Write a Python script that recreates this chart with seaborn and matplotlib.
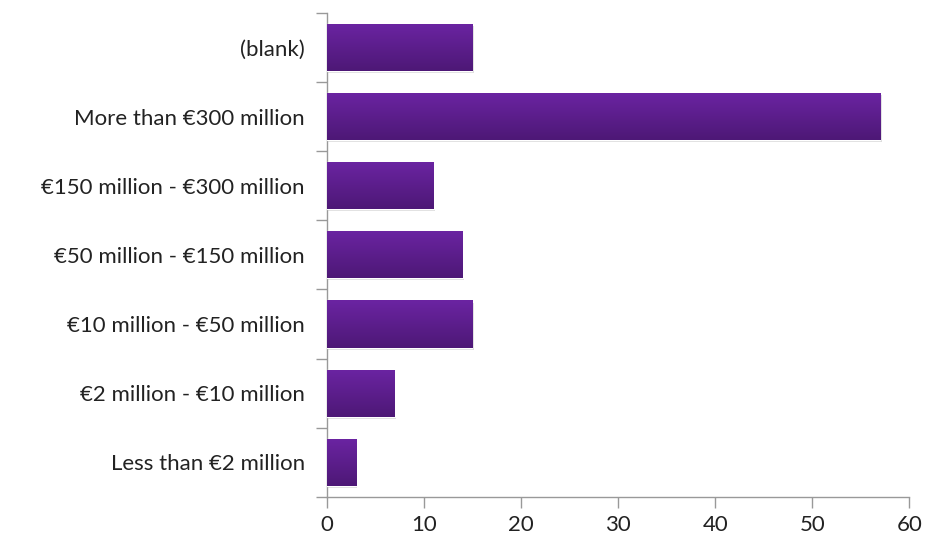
import matplotlib.pyplot as plt
import seaborn as sns
import pandas as pd
import numpy as np

categories = ["(blank)", "More than €300 million", "€150 million - €300 million",
              "€50 million - €150 million", "€10 million - €50 million",
              "€2 million - €10 million", "Less than €2 million"]
counts = [15, 57, 11, 14, 15, 7, 3]
xticks = [0, 10, 20, 30, 40, 50, 60]

df = pd.DataFrame({"band": categories, "count": counts})

sns.set_style("white")
plt.rcParams['font.family'] = ['Lato', 'DejaVu Sans']

fig = plt.figure(figsize=(9.26, 5.4), dpi=100)
ax = fig.add_axes([0.353, 0.080, 0.629, 0.896])

sns.barplot(data=df, y="band", x="count", orient="h", color="#5c1f8c",
            width=0.68, ax=ax, zorder=3)

# vertical gradient on every bar (light top, dark bottom) + soft shadow
grad = np.linspace(0, 1, 100).reshape(-1, 1)
cmap = plt.matplotlib.colors.LinearSegmentedColormap.from_list(
    "purp", ["#6b24a2", "#4d1876"])
for p in list(ax.patches):
    x0, y0 = p.get_x(), p.get_y()
    w, h = p.get_width(), p.get_height()
    shadow = plt.Rectangle((x0 + 0.15, y0 + 0.03), w, h, color="#bbbbbb",
                           alpha=0.5, zorder=2, lw=0)
    ax.add_patch(shadow)
    im = ax.imshow(grad, cmap=cmap, aspect="auto", extent=(x0, x0 + w, y0 + h, y0),
                   zorder=4, interpolation="bilinear")
    im.set_clip_path(p)

ax.set_xlim(0, 60)
ax.set_ylim(len(categories) - 0.5, -0.5)
ax.set_xticks(xticks)
ax.set_xlabel("")
ax.set_ylabel("")

# y ticks at category boundaries
ax.set_yticks(np.arange(-0.5, len(categories) + 0.5, 1), minor=True)
ax.tick_params(axis="y", which="both", left=True)
ax.tick_params(axis="x", which="both", bottom=True)
ax.tick_params(axis="y", which="major", length=0, labelsize=16, pad=16, labelcolor="#222222")
ax.tick_params(axis="y", which="minor", length=8, color="#999999", width=1, direction="out")
ax.tick_params(axis="x", which="major", length=8, color="#999999", width=1,
               labelsize=16, labelcolor="#222222", direction="out", pad=5)

for s in ["top", "right"]:
    ax.spines[s].set_visible(False)
for s in ["left", "bottom"]:
    ax.spines[s].set_color("#999999")
    ax.spines[s].set_linewidth(1)

plt.savefig("out.png", dpi=100)
